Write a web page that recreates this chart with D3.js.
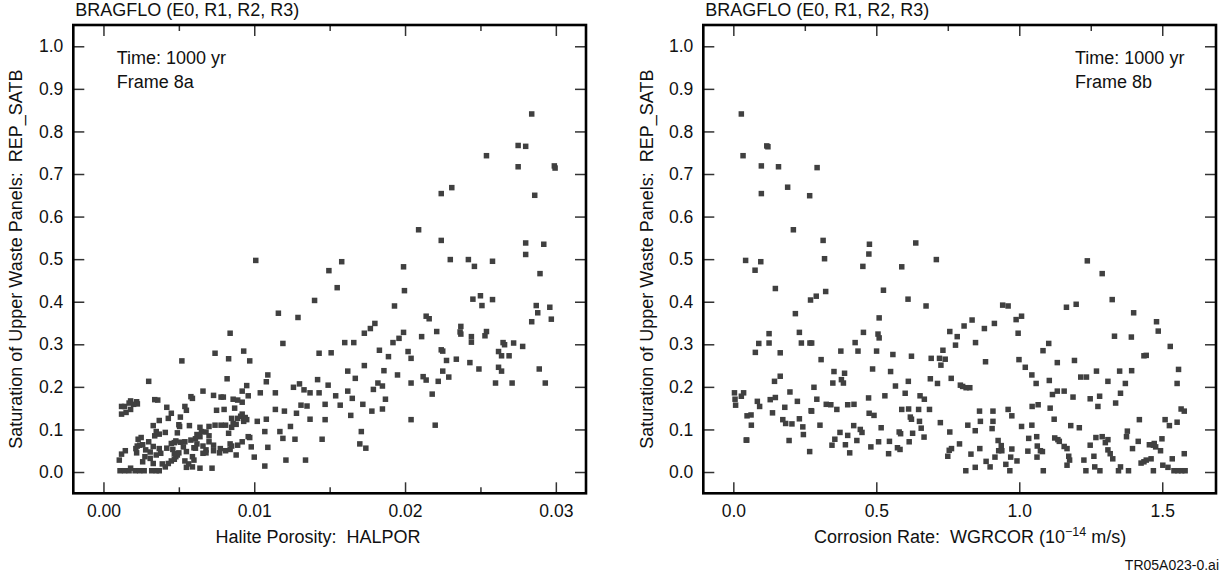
<!DOCTYPE html>
<head>
<meta charset="utf-8">
<script src="https://d3js.org/d3.v7.min.js"></script>
<style>
  body { margin: 0; background: #fff; }
  text { font-family: "Liberation Sans", Arial, sans-serif; fill: #111; }
  .tick line { stroke: #333; stroke-width: 1.5px; }
  .tick text { font-size: 17.5px; }
</style>
</head>
<body>
<svg width="1225" height="577"></svg>
<script>
// halite porosity (x1000) vs REP_SATB, frame 8a
var halpor = [28.4,27.5,28.0,25.4,27.5,29.9,29.95,22.4,23.1,28.6,20.9,22.4,28.0,29.2,28.0,10.1,15.8,23.0,24.2,24.6,25.8,19.9,14.95,28.95,15.5,19.96,14.0,24.5,25.0,25.8,25.1,28.7,29.6,19.3,28.8,11.6,12.9,21.4,21.6,29.7,28.4,18.0,17.7,17.3,8.4,23.7,23.65,23.7,22.1,19.9,24.4,24.4,25.4,25.3,21.1,19.6,19.2,11.9,16.0,16.6,26.5,27.2,26.6,27.8,22.4,22.5,20.2,20.4,18.3,9.3,7.4,14.3,15.1,26.2,26.4,26.9,18.9,22.75,23.4,8.3,9.7,5.2,24.3,17.3,26.2,26.4,24.9,22.5,28.9,16.2,18.6,22.9,10.9,21.2,21.4,19.5,16.7,14.2,8.2,3.0,10.8,22.2,26.0,27.1,29.3,20.4,18.2,18.5,9.5,13.0,14.9,12.6,13.3,16.2,17.9,6.6,5.8,5.9,13.7,14.3,10.4,11.4,9.2,7.3,7.8,7.95,16.5,15.4,21.8,18.7,9.6,8.6,3.4,3.6,1.8,1.7,2.2,2.25,1.2,1.4,1.2,1.5,1.8,2.0,4.2,5.4,5.5,7.5,8.0,8.7,8.9,9.2,11.4,12.0,14.7,15.7,17.2,17.8,18.5,16.4,12.8,13.1,13.5,13.7,14.7,10.8,10.2,20.4,22.0,4.5,3.7,4.3,5.1,3.3,5.0,5.05,5.7,6.4,7.0,7.4,7.8,8.1,8.8,8.9,9.1,9.2,9.4,9.3,8.6,8.5,8.5,9.5,12.4,
  1.1,1.4,1.7,2.1,2.4,2.7,3.2,3.5,3.7,1.8,1.05,1.2,1.45,2.2,2.24,2.4,2.3,2.5,2.6,3.0,3.1,3.4,3.7,2.8,3.3,3.5,3.8,3.9,4.1,4.3,4.5,4.7,4.9,4.2,4.5,4.7,4.9,5.4,5.5,5.5,5.8,5.9,6.1,6.2,6.4,6.6,6.6,6.8,6.0,6.4,7.2,7.0,7.3,7.3,7.7,8.1,8.4,8.5,8.8,8.9,9.2,8.3,9.7,9.8,10.0,10.7,10.7,10.9,11.7,11.9,12.1,12.7,13.4,14.5,17.1,17.0,17.4,
  3.5,4.1,6.5,6.8,7.0,6.2,6.1,4.8,5.1,6.8,6.0,5.3,4.6,3.7,3.3,2.6,2.15,3.1,2.75,4.8,4.7,5.0,5.4,5.65,5.9,7.75,8.4,9.6];
var satA = [.841,.767,.765,.743,.717,.719,.714,.654,.668,.650,.569,.544,.538,.535,.511,.497,.494,.499,.499,.483,.495,.482,.473,.466,.433,.426,.403,.406,.414,.405,.391,.391,.387,.390,.374,.373,.363,.366,.360,.359,.353,.349,.337,.326,.326,.342,.329,.324,.330,.328,.318,.305,.330,.320,.318,.314,.304,.302,.304,.304,.304,.303,.299,.295,.287,.284,.283,.267,.286,.284,.279,.279,.280,.283,.273,.273,.271,.262,.265,.266,.261,.261,.257,.250,.246,.237,.242,.237,.242,.237,.238,.223,.228,.224,.216,.228,.220,.217,.219,.213,.212,.213,.209,.209,.209,.209,.209,.202,.203,.207,.204,.199,.193,.190,.194,.190,.177,.173,.186,.186,.186,.186,.190,.180,.176,.176,.173,.179,.183,.171,.179,.171,.170,.169,.167,.162,.165,.160,.154,.154,.136,.140,.147,.159,.152,.154,.145,.145,.147,.150,.169,.164,.147,.143,.159,.157,.159,.143,.148,.133,.138,.157,.155,.124,.123,.124,.119,.123,.110,.138,.121,.126,.129,.109,.111,.107,.109,.105,.107,.110,.110,.110,.112,.126,.131,.136,.128,.119,.114,.105,.126,.123,.107,
  .003,.003,.003,.003,.003,.003,.003,.003,.003,.009,.028,.042,.050,.045,.061,.063,.077,.081,.024,.071,.032,.085,.089,.052,.020,.040,.044,.019,.012,.020,.026,.030,.040,.056,.067,.069,.092,.071,.048,.011,.075,.012,.056,.066,.083,.061,.044,.052,.028,.009,.009,.071,.063,.050,.045,.050,.053,.061,.040,.063,.071,.091,.081,.059,.035,.014,.095,.058,.095,.079,.028,.077,.028,.077,.095,.066,.056,
  .095,.093,.095,.094,.085,.088,.078,.073,.070,.045,.057,.059,.053,.055,.060,.064,.055,.047,.036,.036,.043,.045,.026,.019,.036,.055,.066,.083];

// corrosion rate (1e-14 m/s) vs REP_SATB, frame 8b
var wgrcor = [0.028,0.034,0.117,0.121,0.098,0.158,0.293,0.098,0.190,0.267,0.210,0.314,0.476,0.638,0.043,0.096,0.319,0.474,0.710,0.076,0.453,0.589,1.238,1.290,0.147,0.323,0.525,0.290,0.270,0.611,1.325,0.674,0.942,0.961,1.165,1.199,1.400,1.008,0.217,0.510,0.989,0.835,0.913,0.807,0.878,1.480,1.486,0.757,0.783,0.996,0.506,0.510,0.455,0.231,0.125,0.089,0.125,0.238,0.268,0.274,0.426,0.847,0.777,1.333,1.392,1.103,1.083,1.528,0.077,0.164,0.376,0.436,0.501,0.733,0.558,0.623,0.692,0.721,0.741,0.726,0.307,0.999,1.133,1.193,0.882,1.270,1.351,1.021,1.557,1.393,0.352,0.389,0.550,0.487,0.164,1.044,1.215,1.235,1.310,1.371,1.059,1.105,1.552,0.144,0.348,0.378,0.385,0.612,0.689,0.714,0.762,0.794,0.802,0.814,0.827,0.567,0.282,0.004,0.036,0.028,0.006,0.008,0.198,0.084,0.092,0.129,0.147,0.292,0.224,0.180,0.137,0.272,0.325,0.341,0.362,0.400,0.422,0.473,0.530,0.601,0.653,0.668,0.613,0.589,0.648,0.724,0.757,0.755,0.763,0.750,0.667,0.651,0.657,0.619,0.623,0.580,0.585,0.574,0.583,0.543,0.546,0.615,0.508,0.517,0.475,0.492,0.444,0.450,0.481,0.421,0.432,0.400,0.392,0.407,0.373,0.355,0.345,0.303,0.274,0.231,0.243,0.245,0.195,0.183,0.205,0.173,0.267,0.048,0.062,0.063,0.045,0.047,0.627,0.686,0.791,
  0.813,0.846,0.831,0.820,0.846,0.864,0.861,0.884,0.898,0.908,0.905,0.908,0.862,0.926,0.928,0.937,0.939,0.915,0.953,0.967,0.961,0.974,0.970,0.974,0.992,1.008,1.033,1.030,1.044,1.045,1.061,1.062,1.066,1.063,1.074,1.081,1.084,1.108,1.116,1.122,1.124,1.135,1.140,1.133,1.157,1.157,1.167,1.173,1.176,1.167,1.180,1.188,1.210,1.226,1.233,1.248,1.268,1.290,1.261,1.264,1.282,1.275,1.281,1.248,1.301,1.310,1.318,1.327,1.310,1.337,1.354,1.354,1.347,1.375,1.378,1.382,1.396,1.416,1.420,1.426,1.436,1.444,1.461,1.436,1.444,1.455,1.469,1.477,1.472,1.469,1.494,1.499,1.502,1.510,1.525,1.520,1.535,1.552,1.566,1.577,1.577,1.541,1.555,1.568,1.580];
var satB = [.841,.743,.766,.764,.719,.717,.715,.654,.669,.649,.569,.544,.535,.538,.497,.494,.501,.512,.499,.474,.483,.482,.496,.466,.431,.424,.427,.413,.404,.406,.405,.390,.392,.390,.387,.394,.374,.366,.372,.362,.358,.357,.349,.343,.337,.353,.331,.330,.318,.326,.324,.315,.328,.328,.325,.302,.303,.303,.303,.303,.304,.304,.298,.319,.317,.302,.285,.295,.281,.280,.284,.284,.284,.286,.276,.272,.267,.267,.265,.251,.264,.264,.257,.262,.259,.237,.237,.246,.241,.238,.236,.232,.236,.242,.225,.228,.223,.223,.213,.208,.208,.215,.208,.213,.209,.217,.209,.213,.219,.208,.220,.204,.201,.198,.198,.202,.199,.186,.186,.178,.171,.157,.188,.166,.154,.170,.175,.171,.166,.152,.139,.144,.159,.158,.147,.158,.159,.174,.179,.185,.179,.171,.148,.147,.147,.116,.094,.051,.055,.037,.082,.119,.103,.129,.124,.094,.090,.057,.053,.043,.072,.071,.071,.104,.138,.133,.100,.093,.059,.109,.074,.086,.064,.045,.093,.077,.063,.110,.143,.125,.106,.088,.074,.114,.113,.123,.048,.132,.134,.110,.075,.075,.091,.147,.066,
  .003,.011,.042,.110,.097,.119,.143,.025,.012,.119,.102,.143,.055,.074,.050,.062,.050,.035,.018,.003,.147,.132,.035,.054,.026,.107,.079,.049,.110,.154,.083,.035,.158,.061,.050,.048,.003,.150,.182,.124,.080,.076,.072,.190,.190,.060,.055,.037,.028,.016,.109,.176,.104,.028,.003,.063,.081,.083,.037,.012,.003,.154,.178,.172,.069,.052,.043,.031,.076,.162,.185,.012,.003,.083,.096,.003,.055,.072,.123,.021,.024,.028,.031,.273,.274,.064,.063,.059,.067,.003,.050,.078,.016,.123,.109,.011,.031,.117,.148,.143,.043,.003,.003,.003,.003];

var yTicks = [0.0, 0.1, 0.2, 0.3, 0.4, 0.5, 0.6, 0.7, 0.8, 0.9, 1.0];

var svg = d3.select("svg");
var plotTop = 25, plotBottom = 493.3;
var y = d3.scaleLinear().domain([-0.05, 1.05]).range([plotBottom, plotTop]);

function panel(opts) {
    var x = d3.scaleLinear().domain(opts.domain).range([opts.left, opts.right]);
    var g = svg.append("g");

    g.append("g").attr("transform", "translate(0," + plotBottom + ")")
        .call(d3.axisBottom(x).tickValues(opts.major).tickSize(-11).tickPadding(11).tickFormat(opts.fmt))
        .call(a => a.select(".domain").remove());
    g.append("g").attr("transform", "translate(0," + plotBottom + ")")
        .call(d3.axisBottom(x).tickValues(opts.minorBottom).tickSize(-6).tickFormat(""))
        .call(a => a.select(".domain").remove());
    g.append("g").attr("transform", "translate(0," + plotTop + ")")
        .call(d3.axisTop(x).tickValues(opts.major).tickSize(-11).tickFormat(""))
        .call(a => a.select(".domain").remove());
    g.append("g").attr("transform", "translate(0," + plotTop + ")")
        .call(d3.axisTop(x).tickValues(opts.minorTop).tickSize(-6).tickFormat(""))
        .call(a => a.select(".domain").remove());
    g.append("g").attr("transform", "translate(" + opts.left + ",0)")
        .call(d3.axisLeft(y).tickValues(yTicks).tickSize(-11).tickPadding(10).tickFormat(d3.format(".1f")))
        .call(a => a.select(".domain").remove());
    g.append("g").attr("transform", "translate(" + opts.right + ",0)")
        .call(d3.axisRight(y).tickValues(yTicks).tickSize(-11).tickFormat(""))
        .call(a => a.select(".domain").remove());
    g.selectAll(".tick text").attr("fill", "#111");

    g.append("g").attr("fill", "#404040")
        .selectAll("rect")
        .data(d3.zip(opts.xs, opts.ys))
        .join("rect")
        .attr("x", d => x(d[0]) - 2.75)
        .attr("y", d => y(d[1]) - 2.75)
        .attr("width", 5.5)
        .attr("height", 5.5);

    g.append("rect")
        .attr("x", opts.left).attr("y", plotTop)
        .attr("width", opts.right - opts.left).attr("height", plotBottom - plotTop)
        .attr("fill", "none").attr("stroke", "#000").attr("stroke-width", 2.6);

    g.append("text").attr("x", opts.left + 2).attr("y", 16)
        .style("font-size", "18px").text("BRAGFLO (E0, R1, R2, R3)");

    g.append("text").attr("x", opts.noteX).attr("y", 64)
        .style("font-size", "18px").text("Time: 1000 yr");
    g.append("text").attr("x", opts.noteX).attr("y", 87.5)
        .style("font-size", "18px").text(opts.frame);

    g.append("text")
        .attr("transform", "translate(" + opts.yTitleX + "," + ((plotTop + plotBottom) / 2) + ") rotate(-90)")
        .attr("text-anchor", "middle")
        .style("font-size", "18px")
        .text("Saturation of Upper Waste Panels:\u00a0\u00a0REP_SATB");

    return g;
}

var gA = panel({
    left: 73.3, right: 586, domain: [-0.002, 0.032],
    major: [0, 0.01, 0.02, 0.03], minorBottom: [0.005, 0.015, 0.025], minorTop: [0.005, 0.015, 0.025],
    fmt: d3.format(".2f"),
    xs: halpor.map(v => v / 1000), ys: satA,
    noteX: 116.7, frame: "Frame 8a", yTitleX: 22
});
gA.append("text").attr("x", 318).attr("y", 543).attr("text-anchor", "middle")
    .style("font-size", "18px").text("Halite Porosity:\u00a0\u00a0HALPOR");

var gB = panel({
    left: 703.3, right: 1216, domain: [-0.105, 1.688],
    major: [0, 0.5, 1.0, 1.5], minorBottom: [], minorTop: [0.25, 0.75, 1.25],
    fmt: d3.format(".1f"),
    xs: wgrcor, ys: satB,
    noteX: 1075, frame: "Frame 8b", yTitleX: 653
});
var xt = gB.append("text").attr("x", 814).attr("y", 543).style("font-size", "18px");
xt.append("tspan").text("Corrosion Rate:\u00a0\u00a0WGRCOR (10");
xt.append("tspan").attr("dy", -7).style("font-size", "12.5px").text("\u221214");
xt.append("tspan").attr("dy", 7).text(" m/s)");

svg.append("text").attr("x", 1219).attr("y", 570).attr("text-anchor", "end")
    .style("font-size", "14px").text("TR05A023-0.ai");
</script>
</body>
